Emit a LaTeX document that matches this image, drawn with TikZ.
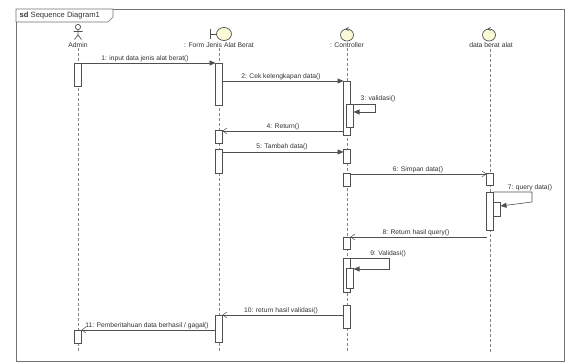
\documentclass[tikz,border=0pt]{standalone}
\usepackage{fontspec}
\setmainfont{Liberation Sans}
\usetikzlibrary{arrows.meta}
\definecolor{ln}{HTML}{505050}
\definecolor{icon}{HTML}{FAFAD8}
\definecolor{txt}{HTML}{333333}
\tikzset{
  act/.style={draw=ln, fill=white, line width=0.5pt, minimum width=7pt, inner sep=0pt, outer sep=0pt},
  lifeline/.style={draw=ln!70, dashed, dash pattern=on 3pt off 2pt, line width=0.5pt},
  call/.style={draw=ln, line width=0.6pt, -{Triangle[length=6pt,width=5pt]}},
  ret/.style={draw=ln, line width=0.5pt, -{Straight Barb[length=4pt,width=6pt]}},
  lbl/.style={font=\fontsize{6.7}{7.5}\selectfont, text=txt, inner sep=0.5pt},
  hdr/.style={font=\fontsize{6.8}{8}\selectfont, text=txt, inner sep=0.5pt},
  iconshape/.style={draw=ln, fill=icon, line width=0.7pt},
}
\newcommand{\actbox}[4]{\node[act, minimum height={(#4-#3)*1pt}] (#1) at (#2,{(#3+#4)/2}) {};}
\begin{document}
\begin{tikzpicture}[x=1pt,y=-1pt]
\useasboundingbox (0,0) rectangle (571,363);
\fill[white] (0,0) rectangle (571,363);
% frame
\draw[ln!80, line width=0.6pt] (16,9) rectangle (564,361);
\draw[ln!80, line width=0.6pt, fill=white] (16,9) -- (113,9) -- (113,17) -- (108,22) -- (16,22) -- cycle;
\node[font=\fontsize{7.6}{8}\selectfont, text=txt, inner sep=0.5pt, anchor=west] (frame) at (19,15.5) {\textbf{sd} Sequence Diagram1};
% lifeline heads
% Admin actor
\draw[ln, line width=0.7pt] (78,27) circle (2.6);
\draw[ln, line width=0.7pt] (78,29.6) -- (78,35) (73.5,31.5) -- (82.5,31.5) (74.5,39.5) -- (78,35) -- (81.5,39.5);
\node[hdr] (hA) at (78,45) {Admin};
% Boundary
\draw[iconshape] (224,34) ellipse (7.5 and 6.5);
\draw[ln, line width=0.8pt] (210,29) -- (210,39) (210,34) -- (216.5,34);
\node[hdr] (hF) at (219,45) {: Form Jenis Alat Berat};
% Controller
\draw[iconshape] (347,35) ellipse (6.5 and 6);
\draw[ln, line width=0.7pt] (348.5,27.5) -- (346,29) -- (348.5,30.5);
\node[hdr] (hC) at (347,45) {: Controller};
% data
\draw[iconshape] (489,35) ellipse (6.5 and 6);
\draw[ln, line width=0.7pt] (490.5,27.5) -- (488,29) -- (490.5,30.5);
\node[hdr] (hD) at (491,45) {data berat alat};
% lifelines
\draw[lifeline] (hA.south) -- (78,352);
\draw[lifeline] (hF.south) -- (219,352);
\draw[lifeline] (hC.south) -- (347,352);
\draw[lifeline] (490,49) -- (490,352);
% activations
\actbox{aa1}{78}{63}{86}
\actbox{aa2}{78}{330}{343}
\actbox{fa1}{219}{63}{105}
\actbox{fa2}{219}{130}{143}
\actbox{fa3}{219}{149}{173}
\actbox{fa4}{219}{315}{342}
\actbox{ca1}{347}{81}{135}
\actbox{ca2}{350}{104}{127}
\actbox{ca3}{347}{149}{163}
\actbox{ca4}{347}{173}{186}
\actbox{ca5}{347}{237}{249}
\actbox{ca6}{347}{258}{292}
\actbox{ca7}{350}{268}{288}
\actbox{ca8}{347}{305}{328}
\actbox{da1}{490}{173}{185}
\actbox{da2}{490}{192}{230}
\actbox{da3}{497}{202}{216}
% messages
\draw[call] (aa1.east |- 0,63) -- (fa1.west |- 0,63);
\node[lbl] (l1) at (145,59) {1: input data jenis alat berat()};
\draw[call] (fa1.east |- 0,81) -- (ca1.west |- 0,81);
\node[lbl] (l2) at (281,77) {2: Cek kelengkapan data()};
\draw[call] (ca1.east |- 0,104) -- (375,104) -- (375,112) -- (ca2.east |- 0,112);
\node[lbl] (l3) at (378,98.5) {3: validasi()};
\draw[ret] (ca1.west |- 0,131) -- (fa2.east |- 0,131);
\node[lbl] (l4) at (283,126.5) {4: Return()};
\draw[call] (fa3.east |- 0,152) -- (ca3.west |- 0,152);
\node[lbl] (l5) at (282,147) {5: Tambah data()};
\draw[ret] (ca4.east |- 0,174) -- (da1.west |- 0,174);
\node[lbl] (l6) at (418,169.5) {6: Simpan data()};
\draw[call] (da2.east |- 0,192) -- (532,192) -- (532,202) -- (da3.east |- 0,206);
\node[lbl] (l7) at (530,188) {7: query data()};
\draw[ret] (da2.west |- 0,237) -- (ca5.east |- 0,237);
\node[lbl] (l8) at (416,232.5) {8: Return hasil query()};
\draw[call] (ca6.east |- 0,258) -- (389,258) -- (389,269) -- (ca7.east |- 0,269);
\node[lbl] (l9) at (388,253.5) {9: Validasi()};
\draw[ret] (ca8.west |- 0,315) -- (fa4.east |- 0,315);
\node[lbl] (l10) at (281,311) {10: return hasil validasi()};
\draw[ret] (fa4.west |- 0,330) -- (aa2.east |- 0,330);
\node[lbl] (l11) at (147,325.5) {11: Pemberitahuan data berhasil / gagal()};
\end{tikzpicture}
\end{document}
